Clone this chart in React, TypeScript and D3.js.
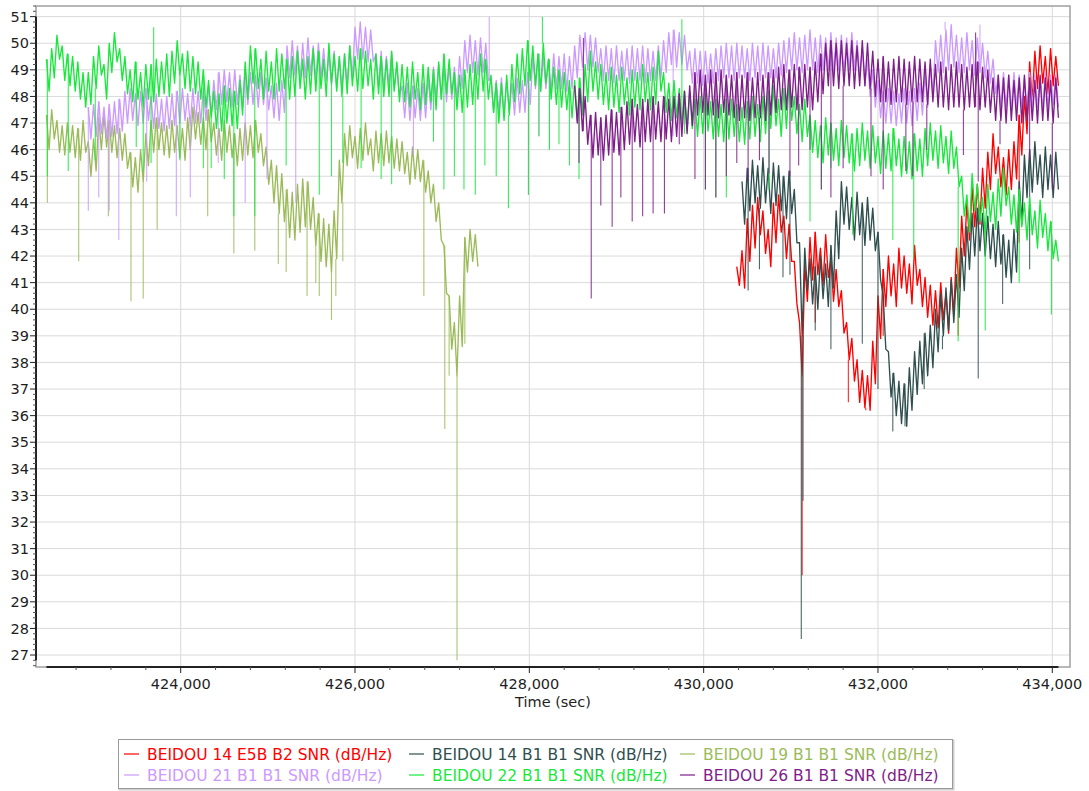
import React from 'react';
import * as d3 from 'd3';

const WIDTH = 1089;
const HEIGHT = 791;
const PLOT = { left: 36, top: 6, right: 1070, bottom: 667 };

// samples are half a minute apart
const STEP = 30;

// BEIDOU 14 E5B B2
const RED_START = 430380;
const red14E5B = [
  41.6, 40.9, 42.2, 40.8, 43.4, 41.8, 43.9, 42.3, 44.2, 42.8,
  43.7, 42.1, 43.0, 41.6, 44.0, 42.5, 44.3, 42.9, 43.5, 41.9,
  43.2, 41.8, 41.8, 40.2, 39.5, 37.5, 41.7, 40.3, 42.7, 41.1,
  42.9, 41.3, 42.3, 40.9, 42.8, 41.2, 41.9, 40.3, 41.5, 40.1,
  40.7, 39.1, 39.5, 38.1, 38.9, 37.3, 38.1, 36.5, 37.7, 36.3,
  37.5, 36.2, 38.8, 37.2, 40.5, 38.9, 41.5, 40.1, 42.0, 40.5,
  41.7, 40.1, 42.3, 40.8, 42.0, 40.6, 41.7, 40.2, 42.4, 40.9,
  41.5, 40.1, 41.2, 39.7, 40.9, 39.4, 40.7, 39.3, 41.0, 39.6,
  40.6, 39.1, 41.2, 39.8, 42.3, 40.8, 43.5, 42.0, 44.0, 42.6,
  44.6, 43.1, 44.7, 43.2, 45.3, 43.8, 45.9, 44.5, 46.6, 45.1,
  46.1, 44.6, 45.7, 44.3, 46.0, 44.5, 46.3, 44.9, 47.3, 45.8,
  48.0, 46.6, 49.3, 47.8, 49.7, 48.3, 49.9, 48.5, 49.5, 48.1,
  49.8, 48.4, 49.5, 48.4,
];
const red14E5BSpikes = [
  [431130, 30.0], [431280, 39.5], [431660, 36.5], [431860, 36.2], [432060, 39.0],
  [432920, 39.0], [433620, 42.5],
];

// BEIDOU 14 B1
const DARK_START = 430440;
const dark14B1 = [
  44.8, 43.2, 45.3, 43.7, 45.6, 44.0, 45.4, 43.8, 45.7, 44.0,
  45.3, 43.6, 45.5, 43.9, 45.4, 43.7, 45.0, 43.4, 45.2, 43.6,
  44.5, 42.5, 42.5, 39.0, 42.3, 40.7, 41.9, 40.2, 41.6, 40.0,
  42.0, 40.4, 41.7, 40.1, 42.4, 40.8, 43.7, 41.9, 44.8, 43.2,
  44.6, 43.0, 44.2, 42.6, 44.4, 42.8, 44.0, 42.4, 44.2, 42.6,
  43.8, 42.2, 42.9, 41.1, 40.5, 38.5, 38.4, 36.7, 37.6, 36.0,
  37.3, 35.7, 37.2, 35.6, 37.8, 36.2, 38.4, 36.8, 38.8, 37.2,
  39.1, 37.5, 39.4, 37.8, 40.0, 38.4, 40.6, 39.0, 40.8, 39.2,
  41.1, 39.5, 41.3, 39.7, 42.3, 40.7, 43.1, 41.5, 43.6, 42.0,
  43.8, 42.2, 43.6, 42.0, 43.5, 41.9, 43.2, 41.6, 43.3, 41.7,
  42.8, 41.2, 42.6, 41.0, 43.0, 41.4, 44.8, 43.2, 45.8, 44.2,
  46.0, 44.4, 46.3, 44.7, 45.8, 44.2, 46.1, 44.5, 45.8, 44.2,
  45.9, 44.5,
];
const dark14B1Spikes = [
  [430510, 40.7], [430640, 41.5], [430910, 41.2], [430990, 41.3], [431120, 27.6],
  [431140, 32.8], [431280, 39.2], [431460, 38.5], [431820, 38.7], [432000, 37.0],
  [432170, 35.4], [432310, 35.6], [432530, 37.0], [432740, 38.5], [433150, 37.4],
  [433430, 40.2], [433740, 41.5],
];

// BEIDOU 19 B1
const OLIVE_START = 422460;
const olive19B1 = [
  47.3, 46.0, 47.5, 46.4, 47.1, 45.9, 46.9, 45.8, 47.0, 45.9,
  46.9, 45.7, 46.8, 45.6, 47.1, 45.9, 46.3, 45.0, 46.4, 45.2,
  47.2, 46.0, 47.3, 46.1, 47.1, 45.9, 46.9, 45.7, 46.8, 45.6,
  46.6, 45.3, 45.9, 44.6, 45.7, 44.4, 46.0, 44.8, 46.6, 45.4,
  47.1, 45.9, 47.2, 46.0, 47.0, 45.8, 46.9, 45.7, 47.1, 45.9,
  46.9, 45.7, 46.8, 45.6, 47.2, 46.0, 47.6, 46.4, 47.4, 46.2,
  47.2, 46.0, 47.5, 46.3, 47.0, 45.8, 46.8, 45.6, 47.1, 45.9,
  46.9, 45.7, 46.6, 45.4, 46.8, 45.6, 47.0, 45.8, 46.9, 45.7,
  47.1, 45.9, 46.6, 45.4, 46.1, 44.7, 45.6, 44.0, 45.4, 43.6,
  45.1, 43.3, 44.5, 42.7, 44.4, 42.6, 44.7, 42.9, 44.9, 43.1,
  44.8, 43.0, 44.2, 42.4, 43.6, 41.8, 43.4, 41.6, 43.2, 41.4,
  43.7, 41.9, 45.6, 44.0, 46.6, 45.4, 46.9, 45.7, 46.5, 45.3,
  46.8, 45.6, 47.0, 45.8, 46.4, 45.2, 46.7, 45.5, 46.6, 45.4,
  46.7, 45.5, 46.5, 45.3, 46.4, 45.2, 46.3, 45.1, 45.9, 44.7,
  46.1, 44.9, 46.0, 44.8, 45.6, 44.4, 45.2, 44.0, 44.7, 43.3,
  44.0, 42.6, 42.4, 40.6, 40.5, 38.5, 39.5, 37.5, 40.5, 38.6,
  42.7, 41.4, 43.0, 41.8, 42.8, 41.6,
];
const olive19B1Spikes = [
  [422470, 44.0], [422830, 41.8], [423170, 43.5], [423430, 40.3], [423570, 40.4],
  [423730, 43.0], [424310, 43.5], [424610, 42.1], [424850, 42.2], [425120, 41.7],
  [425210, 41.4], [425450, 40.5], [425550, 41.0], [425590, 40.5], [425730, 39.6],
  [425780, 40.5], [425860, 41.8], [426790, 40.5], [427030, 35.5], [427080, 37.5],
  [427170, 26.8], [427260, 38.7],
];

// BEIDOU 21 B1
const VIOLET_START = 422940;
const violet21B1 = [
  47.6, 46.4,
  47.7, 46.5, 47.8, 46.6, 47.6, 46.4, 47.7, 46.5, 47.8, 46.6, 47.9, 46.7,
  48.2, 47.0, 48.3, 47.1, 48.1, 46.9, 48.2, 47.0, 48.3, 47.1,
  48.0, 46.8, 48.1, 46.8, 47.9, 46.7, 48.0, 46.8, 48.1, 46.9,
  48.2, 47.0, 48.3, 47.1, 48.1, 46.9, 48.3, 47.0, 48.2, 47.0, 48.3, 47.1, 48.4, 47.3, 48.6, 47.5,
  48.9, 47.7, 49.0, 47.8, 48.9, 47.6, 49.0, 47.7, 48.8, 47.6, 49.0, 47.7, 48.9, 47.7, 48.8, 47.6, 48.9, 47.7, 48.7, 47.5,
  48.4, 47.2, 48.5, 47.1, 48.6, 47.4,
  49.9, 48.7, 50.1, 48.8, 49.9, 48.6, 50.0, 48.7, 50.2, 48.8, 49.9, 48.6, 50.0, 48.7, 49.8, 48.6,
  49.6, 48.4, 49.7, 48.3, 49.5, 48.3, 49.6, 48.4, 49.9, 48.7,
  50.6, 49.4, 50.8, 49.4, 50.6, 49.3, 50.5, 49.3,
  49.6, 48.4, 49.7, 48.3, 49.5, 48.4, 49.6, 48.3, 49.2, 48.0,
  48.4, 47.2, 48.5, 47.1, 48.4, 47.2, 48.3, 47.1, 48.5, 47.2, 48.7, 47.5,
  49.1, 47.9, 49.2, 47.9, 49.1, 47.8, 49.2, 47.9, 49.1, 47.9, 49.5, 48.3,
  50.1, 48.9, 50.3, 48.9, 50.1, 48.8, 50.2, 48.9, 50.0, 48.6,
  48.7, 47.4, 48.6, 47.4, 48.7, 47.3, 48.6, 47.4, 48.5, 47.3, 48.7, 47.4, 48.6, 47.4, 48.9, 47.7,
  49.5, 48.3, 49.6, 48.2, 49.5, 48.3, 49.4, 48.2, 49.6, 48.3, 49.5, 48.3, 49.6, 48.2, 49.5, 48.3, 49.9, 48.7,
  50.3, 49.1, 50.4, 49.0, 50.3, 49.1, 50.2, 48.9,
  49.8, 48.6, 49.9, 48.6, 49.8, 48.5, 49.9, 48.6, 49.7, 48.6, 49.8, 48.5, 49.9, 48.6,
  49.8, 48.6, 49.9, 48.5, 49.8, 48.6, 49.7, 48.6, 49.9, 48.7, 50.1, 48.9,
  50.4, 49.2, 50.5, 49.1, 50.4, 49.2, 50.3, 49.0,
  49.7, 48.5, 49.8, 48.5, 49.7, 48.4, 49.7, 48.5, 49.6, 48.5, 49.8, 48.6,
  49.9, 48.7, 50.0, 48.7, 49.9, 48.6, 50.0, 48.7, 49.9, 48.7, 49.8, 48.6, 50.0,
  48.7, 49.9, 48.6, 50.0, 48.7, 49.9, 48.7, 49.8, 48.7, 50.0, 48.8, 50.1, 48.9,
  50.2, 49.0, 50.4, 49.0, 50.2, 48.9, 50.3, 49.0, 50.5, 49.0, 50.2, 48.9, 50.3, 49.0,
  50.2, 49.0, 50.4, 48.9, 50.2, 49.0, 50.3, 48.9, 50.2, 49.0, 50.4, 49.0, 50.1, 48.8,
  49.8, 48.4, 49.4, 48.0, 49.0, 47.6, 48.6, 47.2,
  48.2, 47.0, 48.3, 47.0, 48.2, 46.9, 48.1, 47.0, 48.3, 47.0, 48.2, 46.9, 48.3, 47.1,
  48.5, 47.3, 48.8, 47.6, 49.2, 48.0,
  50.1, 48.9, 50.3, 48.9, 50.5, 49.0, 50.7, 49.1, 50.3, 48.9, 50.2, 48.9, 50.4, 49.0,
  50.1, 48.8, 50.2, 48.9, 50.0, 48.7, 49.7, 48.5, 49.4, 48.1,
  48.8, 47.6, 48.9, 47.6, 48.8, 47.5, 48.9, 47.6, 48.8, 47.6, 48.7, 47.5, 48.9, 47.6,
  48.8, 47.6, 48.7, 47.5, 48.9, 47.6, 48.8, 47.7, 48.8, 47.6,
];
const violet21B1Spikes = [
  [422940, 43.7], [423060, 44.2], [423180, 43.7], [423290, 42.6], [423610, 44.8],
  [423950, 43.5], [424110, 44.2], [424430, 45.5], [424740, 44.0], [424990, 44.9],
  [425320, 44.0], [426670, 45.8], [427540, 51.0], [427990, 44.3], [428110, 46.5],
  [428230, 46.0], [429650, 46.5], [432770, 50.8], [433170, 50.7],
];

// BEIDOU 22 B1
const GREEN_START = 422460;
const green22B1 = [
  49.4, 48.2, 49.8, 48.7, 50.3, 49.4, 49.9, 48.6, 49.6, 48.4,
  49.5, 48.2, 49.3, 47.9, 48.9, 47.6, 48.9, 47.7, 49.5, 48.3,
  49.9, 48.8, 49.2, 47.9, 50.0, 48.9, 50.4, 49.3, 49.8, 48.6,
  49.5, 48.1, 49.0, 47.8, 49.3, 47.9, 48.9, 47.6, 49.2, 47.9,
  49.2, 47.8, 49.4, 48.0, 49.3, 48.1, 49.6, 48.0, 49.7, 48.5,
  50.1, 48.8, 49.6, 48.3, 49.7, 48.2, 49.5, 48.1, 49.3, 47.9,
  49.0, 47.6, 48.6, 47.2, 48.2, 46.8, 48.1, 46.7, 48.4, 47.0,
  48.3, 46.9, 48.2, 46.8, 48.6, 47.3, 49.3, 47.9, 49.9, 48.5,
  49.8, 48.3, 49.4, 47.9, 49.7, 48.2, 49.3, 47.9, 49.8, 48.2,
  49.6, 48.3, 49.4, 47.9, 49.5, 48.0, 49.7, 48.3, 49.4, 47.9,
  49.5, 48.1, 49.8, 48.2, 49.7, 48.3, 49.4, 48.0, 50.0, 48.5,
  49.6, 48.2, 49.5, 48.0, 49.6, 48.1, 49.9, 48.4, 49.5, 48.2,
  49.8, 48.3, 49.7, 48.4, 49.4, 47.9, 49.6, 48.1, 49.5, 48.0,
  49.4, 48.0, 49.7, 48.2, 49.3, 47.8, 49.2, 47.8, 49.1, 47.6,
  49.3, 47.9, 48.9, 47.5, 49.2, 47.7, 49.1, 47.8, 49.0, 47.5,
  49.3, 47.9, 49.6, 48.1, 49.4, 48.1, 48.9, 47.5, 48.8, 47.4,
  49.0, 47.6, 49.2, 47.7, 49.3, 47.9, 49.6, 48.2, 49.4, 47.9,
  48.8, 47.4, 48.5, 47.0, 48.5, 47.1, 48.8, 47.3, 49.2, 47.8,
  49.6, 48.1, 49.8, 48.4, 50.1, 48.6, 49.9, 48.4, 49.6, 48.2,
  50.0, 48.5, 49.4, 47.9, 49.1, 47.7, 49.0, 47.6, 48.9, 47.5,
  48.6, 47.2, 48.6, 47.1, 48.7, 47.3, 49.2, 47.8, 49.7, 48.2,
  49.3, 47.9, 49.2, 47.7, 48.9, 47.5, 49.1, 47.6, 48.8, 47.4,
  49.1, 47.7, 48.7, 47.3, 49.0, 47.6, 48.9, 47.5, 49.2, 47.8,
  48.9, 47.5, 49.1, 47.7, 49.7, 48.2, 48.9, 47.4, 48.5, 47.1,
  48.6, 47.2, 48.3, 46.9, 48.2, 46.7, 48.2, 46.8, 47.9, 46.5,
  48.0, 46.6, 48.1, 46.7, 47.8, 46.4, 47.9, 46.5, 47.7, 46.3,
  47.9, 46.4, 47.9, 46.5, 47.7, 46.3, 47.6, 46.2, 47.8, 46.4,
  48.0, 46.5, 47.7, 46.3, 48.0, 46.6, 48.2, 46.8, 48.4, 46.9,
  47.9, 46.5, 48.3, 46.8, 48.5, 47.1, 48.0, 46.6, 47.7, 46.3,
  47.9, 46.5, 47.3, 45.9, 47.1, 45.7, 46.9, 45.5, 47.2, 45.8,
  47.0, 45.6, 46.8, 45.4, 47.1, 45.7, 46.9, 45.5, 46.6, 45.2,
  46.8, 45.4, 47.0, 45.6, 46.7, 45.3, 46.9, 45.5, 46.5, 45.1,
  46.7, 45.3, 46.6, 45.2, 46.8, 45.4, 46.4, 45.0, 46.5, 45.1,
  46.3, 44.9, 46.6, 45.2, 46.4, 45.0, 46.8, 45.4, 47.0, 45.6,
  46.7, 45.3, 46.9, 45.5, 46.5, 45.1, 46.7, 45.3, 46.1, 44.6,
  45.0, 43.5, 44.3, 42.9, 45.1, 43.7, 44.7, 43.3, 44.2, 42.8,
  44.7, 43.3, 44.4, 43.0, 44.9, 43.5, 45.3, 43.9, 44.6, 43.2,
  44.3, 42.9, 44.5, 43.1, 44.0, 42.6, 44.2, 42.8, 43.7, 42.3,
  44.1, 42.7, 43.6, 42.2, 43.3, 41.9, 42.6, 41.8,
];
const green22B1Spikes = [
  [422470, 45.0], [422710, 45.2], [423020, 45.6], [423490, 46.1], [423570, 45.2],
  [423660, 45.5], [423690, 50.6], [423990, 45.6], [424260, 45.3], [424350, 45.3],
  [424500, 44.9], [424610, 43.5], [424850, 43.5], [425210, 45.4], [425590, 44.3],
  [425730, 45.0], [425860, 45.5], [426070, 45.3], [426300, 44.9], [426420, 44.7],
  [426900, 46.3], [427020, 44.5], [427140, 45.0], [427250, 44.5], [427380, 44.3],
  [427490, 45.4], [427620, 45.0], [427760, 43.8], [427990, 44.3], [428110, 46.5],
  [428150, 51.0], [428230, 46.0], [428340, 46.2], [428460, 45.4], [428570, 44.9],
  [429750, 50.9], [429780, 46.6], [430020, 44.5], [430140, 44.2], [430260, 44.2],
  [430750, 44.5], [431220, 43.3], [431350, 44.5], [431460, 45.3], [431710, 42.8],
  [432170, 42.6], [432410, 41.9], [432920, 38.8], [433230, 39.2], [433620, 41.0],
  [433990, 39.8],
];

// BEIDOU 26 B1
const PURPLE_START = 428520;
const purple26B1 = [
  48.4, 47.0, 48.3, 46.7, 48.0, 46.2,
  47.3, 45.7, 47.4, 45.8, 47.2, 45.6, 47.3, 45.8,
  47.5, 45.9, 47.4, 45.8, 47.6, 46.0,
  47.8, 46.2, 47.9, 46.3, 47.7, 46.1, 47.9, 46.3,
  47.9, 46.3, 48.0, 46.4, 47.8, 46.3, 48.0, 46.4, 47.9, 46.3, 48.0, 46.5,
  48.1, 46.5, 48.2, 46.6, 48.4, 46.9,
  48.9, 47.3, 49.0, 47.4, 48.8, 47.3, 49.0, 47.3, 48.9, 47.2, 49.0, 47.4, 48.8, 47.3,
  48.8, 47.2, 48.9, 47.1, 48.8, 47.2, 48.9, 47.1, 48.7, 47.2, 48.9, 47.2, 48.8, 47.1, 48.9, 47.3, 49.0, 47.4,
  49.1, 47.5, 49.2, 47.5, 49.0, 47.6, 49.2, 47.5, 49.1, 47.5, 49.2, 47.6, 49.1, 47.5, 49.3, 47.8, 49.6, 48.1,
  50.0, 48.4, 50.1, 48.4, 50.0, 48.3, 50.1, 48.4, 50.0, 48.4, 50.1, 48.3, 49.9, 48.4, 50.1, 48.4, 50.0, 48.3, 49.7, 48.0,
  49.4, 47.8, 49.5, 47.8, 49.3, 47.7, 49.4, 47.8, 49.5, 47.8, 49.4, 47.7, 49.3, 47.8, 49.5, 47.8, 49.4, 47.8, 49.3, 47.7, 49.4, 47.8,
  49.2, 47.6, 49.3, 47.6, 49.1, 47.5, 49.2, 47.6, 49.3, 47.6, 49.2, 47.5, 49.1, 47.6, 49.2, 47.6, 49.3, 47.5, 49.1, 47.6, 49.0, 47.4,
  48.7, 47.1, 48.8, 47.1, 48.7, 47.0, 48.8, 47.1, 48.6, 47.1, 48.7, 47.0, 48.8, 47.1, 48.7, 47.1, 48.6, 47.0, 48.8, 47.1, 48.7, 47.1, 48.6, 47.0, 48.7, 47.2,
];
const purple26B1Spikes = [
  [428570, 45.5], [428620, 50.2], [428710, 40.4], [428820, 43.9], [428950, 43.1],
  [429050, 44.2], [429180, 43.3], [429300, 43.5], [429420, 43.6], [429550, 43.6],
  [429720, 46.2], [429900, 44.9], [430020, 44.5], [430140, 44.2], [430260, 45.0],
  [430380, 45.5], [430510, 44.8], [430640, 45.6], [430750, 45.1], [430990, 45.0],
  [431090, 45.4], [431220, 46.0], [431350, 44.5], [431460, 44.2], [431600, 45.3],
  [431920, 45.0], [432060, 44.5], [432320, 45.2], [432400, 45.0], [432560, 46.0],
  [432980, 45.8], [433120, 50.4], [433150, 44.8], [433400, 46.2], [433740, 45.6],
  [434000, 44.5],
];

const Y_TICKS = d3.range(27, 52);
const X_TICKS = [424000, 426000, 428000, 430000, 432000, 434000];

interface Series {
  name: string;
  color: string;
  start: number;
  values: number[];
  spikes: number[][];
}

// drawing order = legend order
const SERIES: Series[] = [
  { name: 'BEIDOU 14 E5B B2 SNR (dB/Hz)', color: '#ff0000', start: RED_START, values: red14E5B, spikes: red14E5BSpikes },
  { name: 'BEIDOU 14 B1 B1 SNR (dB/Hz)', color: '#2f4f4f', start: DARK_START, values: dark14B1, spikes: dark14B1Spikes },
  { name: 'BEIDOU 19 B1 B1 SNR (dB/Hz)', color: '#9bbb59', start: OLIVE_START, values: olive19B1, spikes: olive19B1Spikes },
  { name: 'BEIDOU 21 B1 B1 SNR (dB/Hz)', color: '#cc99ff', start: VIOLET_START, values: violet21B1, spikes: violet21B1Spikes },
  { name: 'BEIDOU 22 B1 B1 SNR (dB/Hz)', color: '#18e83c', start: GREEN_START, values: green22B1, spikes: green22B1Spikes },
  { name: 'BEIDOU 26 B1 B1 SNR (dB/Hz)', color: '#7f1d8a', start: PURPLE_START, values: purple26B1, spikes: purple26B1Spikes },
];

const FONT = "'DejaVu Sans', Verdana, sans-serif";

const App: React.FC = () => {
  const x = d3.scaleLinear().domain([422340, 434203]).range([PLOT.left, PLOT.right]);
  const y = d3.scaleLinear().domain([26.55, 51.4]).range([PLOT.bottom, PLOT.top]);

  // extent of the data, used for the dark axis lines
  const allVals = SERIES.flatMap(s => [...s.values, ...s.spikes.map(p => p[1])]);
  const yMin = d3.min(allVals)!;
  const yMax = d3.max(allVals)!;
  const tMin = d3.min(SERIES, s => s.start)!;
  const tMax = d3.max(SERIES, s => s.start + (s.values.length - 1) * STEP)!;

  const minorY = d3.range(133, 258).filter(k => k % 5 !== 0).map(k => k / 5);
  const minorX = d3.range(422800, 434201, 400).filter(t => t % 2000 !== 0);

  const legendCols = [147, 432, 703];
  const legendRows = [754, 775];

  return (
    <div style={{ position: 'absolute', left: 0, top: 0 }}>
      <svg width={WIDTH} height={HEIGHT} style={{ display: 'block', background: '#fff' }}>
        {/* grid */}
        <g stroke="#dadada" strokeWidth={1}>
          {Y_TICKS.map(v => (
            <line key={'gy' + v} x1={PLOT.left} x2={PLOT.right} y1={y(v)} y2={y(v)} />
          ))}
          {X_TICKS.map(t => (
            <line key={'gx' + t} x1={x(t)} x2={x(t)} y1={PLOT.top} y2={PLOT.bottom} />
          ))}
        </g>
        <rect x={PLOT.left} y={PLOT.top} width={PLOT.right - PLOT.left} height={PLOT.bottom - PLOT.top}
          fill="none" stroke="#a0a0a0" strokeWidth={1.5} />

        {/* series */}
        <defs>
          <clipPath id="plot-clip">
            <rect x={PLOT.left} y={PLOT.top} width={PLOT.right - PLOT.left} height={PLOT.bottom - PLOT.top} />
          </clipPath>
        </defs>
        <g clipPath="url(#plot-clip)" fill="none">
          {SERIES.map(s => {
            const line = d3.line<number>()
              .x((_, i) => x(s.start + i * STEP))
              .y(d => y(d));
            const vals = s.values;
            const spikePath = s.spikes.map(([t, v]) => {
              const idx = Math.max(0, Math.min(vals.length - 1, Math.round((t - s.start) / STEP)));
              return `M${x(t)},${y(vals[idx])}V${y(v)}`;
            }).join('');
            return (
              <g key={s.name} stroke={s.color}>
                <path d={line(vals)!} strokeWidth={1.35} strokeLinejoin="round" />
                <path d={spikePath} strokeWidth={1.1} strokeOpacity={0.85} />
              </g>
            );
          })}
        </g>

        {/* y axis */}
        <line x1={PLOT.left} x2={PLOT.left} y1={y(yMax)} y2={y(yMin)} stroke="#222" strokeWidth={2} />
        <g stroke="#555" strokeWidth={1}>
          {minorY.map(v => (
            <line key={'my' + v} x1={PLOT.left - 3} x2={PLOT.left} y1={y(v)} y2={y(v)} />
          ))}
          {Y_TICKS.map(v => (
            <line key={'ty' + v} x1={PLOT.left - 6} x2={PLOT.left} y1={y(v)} y2={y(v)} stroke="#222" />
          ))}
        </g>
        <g fontFamily={FONT} fontSize={14.5} fill="#1e1e1e" textAnchor="end">
          {Y_TICKS.map(v => (
            <text key={'ly' + v} x={29} y={y(v)} dy="0.36em">{v}</text>
          ))}
        </g>

        {/* x axis */}
        <line x1={x(tMin)} x2={x(tMax)} y1={PLOT.bottom} y2={PLOT.bottom} stroke="#222" strokeWidth={2} />
        <g stroke="#555" strokeWidth={1}>
          {minorX.map(t => (
            <line key={'mx' + t} x1={x(t)} x2={x(t)} y1={PLOT.bottom} y2={PLOT.bottom + 3} />
          ))}
          {X_TICKS.map(t => (
            <line key={'tx' + t} x1={x(t)} x2={x(t)} y1={PLOT.bottom} y2={PLOT.bottom + 6} stroke="#222" />
          ))}
        </g>
        <g fontFamily={FONT} fontSize={14.5} fill="#1e1e1e" textAnchor="middle">
          {X_TICKS.map(t => (
            <text key={'lx' + t} x={x(t)} y={689}>{d3.format(',')(t)}</text>
          ))}
          <text x={553} y={707}>Time (sec)</text>
        </g>

        {/* legend */}
        <rect x={119.5} y={740.5} width={834} height={49} fill="#fff" stroke="#d0d0d0" strokeWidth={2} />
        <rect x={118.5} y={739.5} width={834} height={49} fill="#fff" stroke="#9a9a9a" strokeWidth={1} />
        <g fontFamily={FONT} fontSize={15.5}>
          {SERIES.map((s, i) => {
            const cx = legendCols[i % 3];
            const cy = legendRows[Math.floor(i / 3)];
            return (
              <g key={'lg' + s.name}>
                <line x1={cx - 23} x2={cx - 8} y1={cy} y2={cy} stroke={s.color} strokeWidth={1.2} />
                <text x={cx} y={cy} dy="0.36em" fill={s.color}>{s.name}</text>
              </g>
            );
          })}
        </g>
      </svg>
    </div>
  );
};

export default App;
